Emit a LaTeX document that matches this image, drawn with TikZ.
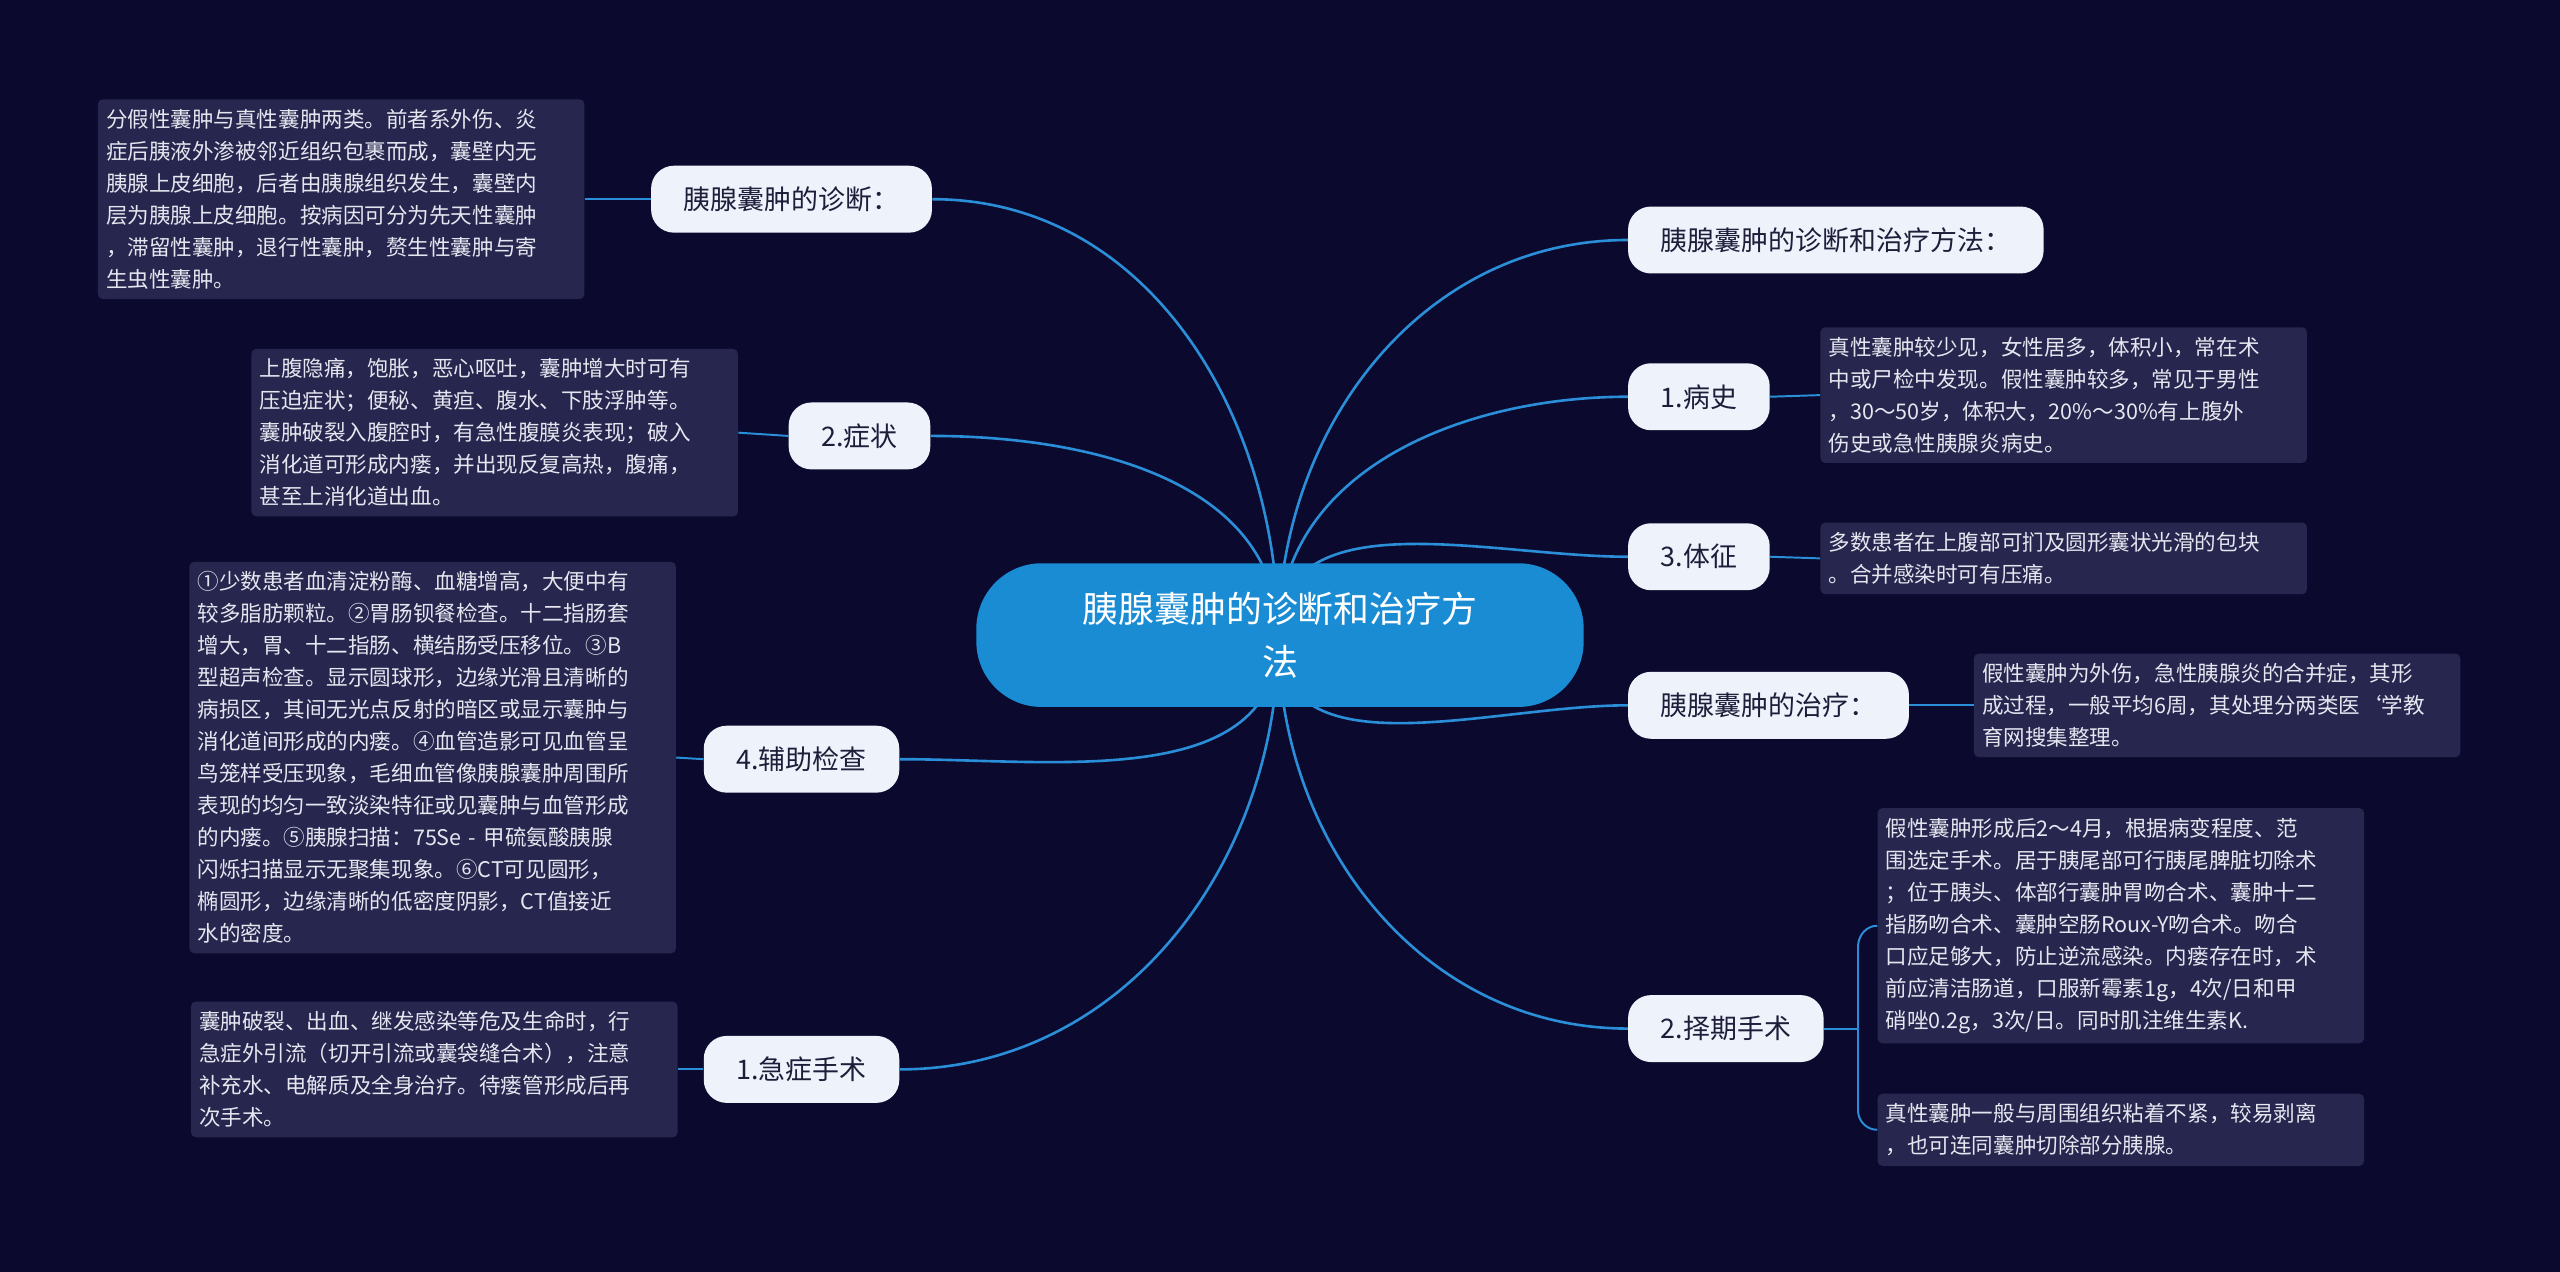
\documentclass[tikz,border=0pt]{standalone}
\usepackage{fontspec}
\setmainfont{Noto Sans CJK SC}
\begin{document}
\begin{tikzpicture}[x=1pt,y=-1pt,
  branch/.style={fill=bfill,rounded corners=14pt,text=btext,font=\fontsize{16.5}{19}\selectfont,minimum height=41pt,inner xsep=20pt},
  leaf/.style={fill=lfill,rounded corners=3pt,text=ltext,font=\fontsize{13.2}{19.6}\selectfont,align=left,text width=288pt,inner xsep=5pt,inner ysep=6pt},
  conn/.style={draw=lcol,line width=1.6pt},
  lconn/.style={draw=lcol,line width=1.2pt}]
\definecolor{bg}{HTML}{0B0A2E}
\definecolor{bfill}{HTML}{EEF2FB}
\definecolor{btext}{HTML}{1E1E3A}
\definecolor{lfill}{HTML}{26264E}
\definecolor{ltext}{HTML}{E6E6F0}
\definecolor{lcol}{HTML}{2A8ED8}
\definecolor{cfill}{HTML}{1A8CD4}
\fill[bg] (0,0) rectangle (1568,779);
\useasboundingbox (0,0) rectangle (1568,779);
% branches
\node[branch,anchor=east] (b1) at (571,122) {胰腺囊肿的诊断：};
\node[branch,anchor=east] (b2) at (570,267) {2.症状};
\node[branch,anchor=east] (b3) at (551,465) {4.辅助检查};
\node[branch,anchor=east] (b4) at (551,655) {1.急症手术};
\node[branch,anchor=west] (r0) at (997,147) {胰腺囊肿的诊断和治疗方法：};
\node[branch,anchor=west] (r1) at (997,243) {1.病史};
\node[branch,anchor=west] (r2) at (997,341) {3.体征};
\node[branch,anchor=west] (r3) at (997,432) {胰腺囊肿的治疗：};
\node[branch,anchor=west] (r4) at (997,630) {2.择期手术};
% leaves
\node[leaf] (l1) at (209,122) {分假性囊肿与真性囊肿两类。前者系外伤、炎\\症后胰液外渗被邻近组织包裹而成，囊壁内无\\胰腺上皮细胞，后者由胰腺组织发生，囊壁内\\层为胰腺上皮细胞。按病因可分为先天性囊肿\\，滞留性囊肿，退行性囊肿，赘生性囊肿与寄\\生虫性囊肿。};
\node[leaf] (l2) at (303,265) {上腹隐痛，饱胀，恶心呕吐，囊肿增大时可有\\压迫症状；便秘、黄疸、腹水、下肢浮肿等。\\囊肿破裂入腹腔时，有急性腹膜炎表现；破入\\消化道可形成内瘘，并出现反复高热，腹痛，\\甚至上消化道出血。};
\node[leaf] (l3) at (265,464) {①少数患者血清淀粉酶、血糖增高，大便中有\\较多脂肪颗粒。②胃肠钡餐检查。十二指肠套\\增大，胃、十二指肠、横结肠受压移位。③B\\型超声检查。显示圆球形，边缘光滑且清晰的\\病损区，其间无光点反射的暗区或显示囊肿与\\消化道间形成的内瘘。④血管造影可见血管呈\\鸟笼样受压现象，毛细血管像胰腺囊肿周围所\\表现的均匀一致淡染特征或见囊肿与血管形成\\的内瘘。⑤胰腺扫描：75Se - 甲硫氨酸胰腺\\闪烁扫描显示无聚集现象。⑥CT可见圆形，\\椭圆形，边缘清晰的低密度阴影，CT值接近\\水的密度。};
\node[leaf] (l4) at (266,655) {囊肿破裂、出血、继发感染等危及生命时，行\\急症外引流（切开引流或囊袋缝合术），注意\\补充水、电解质及全身治疗。待瘘管形成后再\\次手术。};
\node[leaf] (m1) at (1264,242) {真性囊肿较少见，女性居多，体积小，常在术\\中或尸检中发现。假性囊肿较多，常见于男性\\，30～50岁，体积大，20\%～30\%有上腹外\\伤史或急性胰腺炎病史。};
\node[leaf] (m2) at (1264,342) {多数患者在上腹部可扪及圆形囊状光滑的包块\\。合并感染时可有压痛。};
\node[leaf] (m3) at (1358,432) {假性囊肿为外伤，急性胰腺炎的合并症，其形\\成过程，一般平均6周，其处理分两类医`学教\\育网搜集整理。};
\node[leaf] (m4) at (1299,567) {假性囊肿形成后2～4月，根据病变程度、范\\围选定手术。居于胰尾部可行胰尾脾脏切除术\\；位于胰头、体部行囊肿胃吻合术、囊肿十二\\指肠吻合术、囊肿空肠Roux-Y吻合术。吻合\\口应足够大，防止逆流感染。内瘘存在时，术\\前应清洁肠道，口服新霉素1g，4次/日和甲\\硝唑0.2g，3次/日。同时肌注维生素K.};
\node[leaf] (m5) at (1299,692) {真性囊肿一般与周围组织粘着不紧，较易剥离\\，也可连同囊肿切除部分胰腺。};
% connectors
\coordinate (c) at (783,390);
\draw[conn] (c) to[out=90,in=0] (b1.east);
\draw[conn] (c) to[out=90,in=0] (b2.east);
\draw[conn] (c) to[out=-90,in=0] (b3.east);
\draw[conn] (c) to[out=-90,in=0] (b4.east);
\draw[conn] (c) to[out=90,in=180] (r0.west);
\draw[conn] (c) to[out=90,in=180] (r1.west);
\draw[conn] (c) to[out=90,in=180] (r2.west);
\draw[conn] (c) to[out=-90,in=180] (r3.west);
\draw[conn] (c) to[out=-90,in=180] (r4.west);
\draw[lconn] (b1.west) -- (l1.east);
\draw[lconn] (b2.west) -- (l2.east);
\draw[lconn] (b3.west) -- (l3.east);
\draw[lconn] (b4.west) -- (l4.east);
\draw[lconn] (r1.east) -- (m1.west);
\draw[lconn] (r2.east) -- (m2.west);
\draw[lconn] (r3.east) -- (m3.west);
\coordinate (k) at (1138,630);
\draw[lconn] (r4.east) -- (k);
\draw[lconn] (k) -- (1138,580) to[out=90,in=180] (m4.west);
\draw[lconn] (k) -- (1138,680) to[out=-90,in=180] (m5.west);
% center
\node[fill=cfill,rounded corners=40pt,minimum width=372pt,minimum height=88pt,text=white,align=center,font=\fontsize{22}{32}\selectfont] (center) at (784,389) {胰腺囊肿的诊断和治疗方\\法};
\end{tikzpicture}
\end{document}
